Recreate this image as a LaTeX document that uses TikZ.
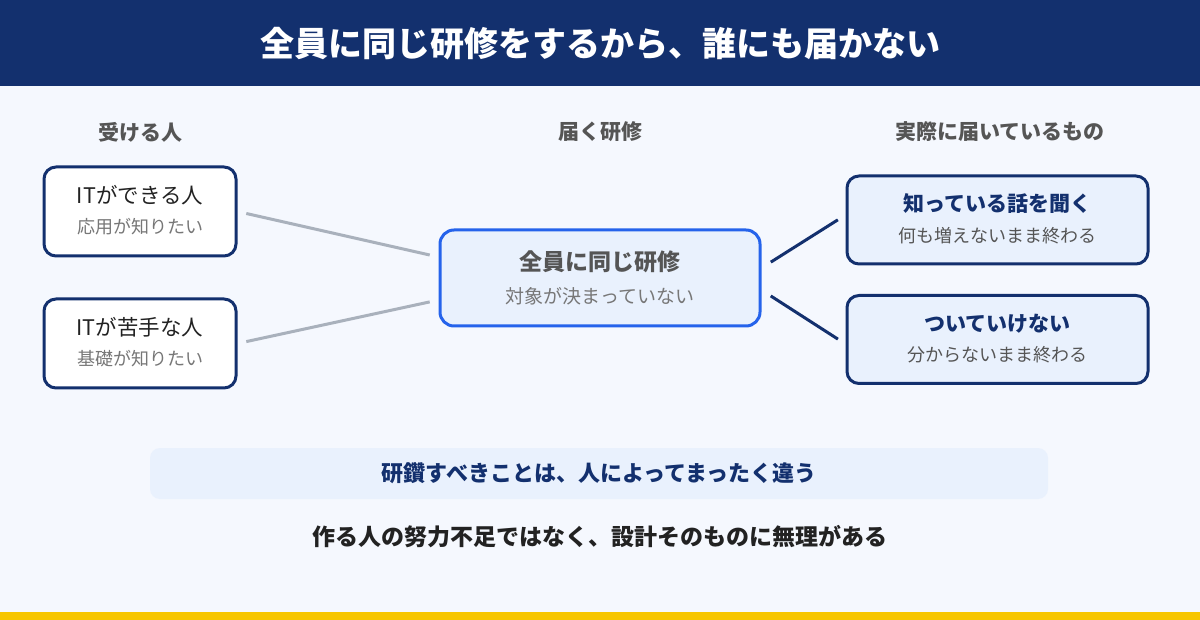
\documentclass[tikz,border=0pt]{standalone}
\usepackage{fontspec}
\setmainfont{Noto Sans CJK JP}
\usetikzlibrary{calc}
\definecolor{navy}{HTML}{13306E}
\definecolor{bgc}{HTML}{F5F8FE}
\definecolor{pale}{HTML}{E9F1FD}
\definecolor{bright}{HTML}{2563EB}
\definecolor{yel}{HTML}{F7C600}
\definecolor{grayline}{HTML}{A9B1BC}
\definecolor{headg}{HTML}{555555}
\definecolor{subg}{HTML}{777777}
\definecolor{dark}{HTML}{222222}
\tikzset{
  whitebox/.style={draw=navy, line width=3pt, fill=white, rounded corners=12pt, minimum width=192pt, minimum height=89pt, inner sep=0pt},
  palebox/.style={draw=navy, line width=3pt, fill=pale, rounded corners=12pt, minimum width=301pt, minimum height=88pt, inner sep=0pt},
  centerbox/.style={draw=bright, line width=3pt, fill=pale, rounded corners=14pt, minimum width=320pt, minimum height=96pt, inner sep=0pt},
  heading/.style={text=headg, font=\bfseries\fontsize{21}{21}\selectfont},
  graylink/.style={draw=grayline, line width=3pt, shorten >=9pt, shorten <=9pt},
  navylink/.style={draw=navy, line width=3pt, shorten >=9pt, shorten <=11pt},
  txt/.style={inner sep=0pt, anchor=center}
}
\begin{document}
\begin{tikzpicture}[x=1pt,y=-1pt]
\useasboundingbox (0,0) rectangle (1200,620);
\fill[bgc] (0,0) rectangle (1200,620);
\fill[navy] (0,0) rectangle (1200,86);
\fill[yel] (0,612) rectangle (1200,620);
\node[txt, text=white, font=\bfseries\fontsize{34}{34}\selectfont] (title) at (600,44) {全員に同じ研修をするから、誰にも届かない};

\node[txt, heading] (h1) at (140,132) {受ける人};
\node[txt, heading] (h2) at (600,132) {届く研修};
\node[txt, heading] (h3) at (1000,132) {実際に届いているもの};

% left boxes
\node[whitebox] (l1) at (140,211.5) {};
\node[txt, text=dark, font=\fontsize{21.5}{21.5}\selectfont] (l1a) at (140,195) {ITができる人};
\node[txt, text=subg, font=\fontsize{18}{18}\selectfont] (l1b) at (140,227) {応用が知りたい};
\node[whitebox] (l2) at (140,343.5) {};
\node[txt, text=dark, font=\fontsize{21.5}{21.5}\selectfont] (l2a) at (140,327) {ITが苦手な人};
\node[txt, text=subg, font=\fontsize{18}{18}\selectfont] (l2b) at (140,359) {基礎が知りたい};

% center box
\node[centerbox] (m) at (600,278) {};
\node[txt, text=headg, font=\bfseries\fontsize{23}{23}\selectfont] (ma) at (600,262) {全員に同じ研修};
\node[txt, text=subg, font=\fontsize{19}{19}\selectfont] (mb) at (600,296) {対象が決まっていない};

% right boxes
\node[palebox] (r1) at (997.5,220) {};
\node[txt, text=navy, font=\bfseries\fontsize{21}{21}\selectfont] (r1a) at (997.5,204) {知っている話を聞く};
\node[txt, text=headg, font=\fontsize{18}{18}\selectfont] (r1b) at (997.5,236) {何も増えないまま終わる};
\node[palebox] (r2) at (997.5,339.5) {};
\node[txt, text=navy, font=\bfseries\fontsize{21}{21}\selectfont] (r2a) at (997.5,324) {ついていけない};
\node[txt, text=headg, font=\fontsize{18}{18}\selectfont] (r2b) at (997.5,355) {分からないまま終わる};

% connector end points on node borders
\coordinate (mw1) at ($(m.west)+(0,-21)$);
\coordinate (mw2) at ($(m.west)+(0,22)$);
\coordinate (me1) at ($(m.east)+(0,-10)$);
\coordinate (me2) at ($(m.east)+(0,12)$);
\coordinate (r1w) at ($(r1.west)+(0,-5)$);
\coordinate (r2w) at ($(r2.west)+(0,4.5)$);

\draw[graylink] (l1.east) -- (mw1);
\draw[graylink] (l2.east) -- (mw2);
\draw[navylink] (me1) -- (r1w);
\draw[navylink] (me2) -- (r2w);

% bottom band
\node[fill=pale, rounded corners=10pt, minimum width=898pt, minimum height=51pt, inner sep=0pt] (band) at (599,473.5) {};
\node[txt, text=navy, font=\bfseries\fontsize{22}{22}\selectfont] (bandt) at (599,473) {研鑽すべきことは、人によってまったく違う};
\node[txt, text=dark, font=\bfseries\fontsize{23}{23}\selectfont] (concl) at (600,537) {作る人の努力不足ではなく、設計そのものに無理がある};
\end{tikzpicture}
\end{document}
